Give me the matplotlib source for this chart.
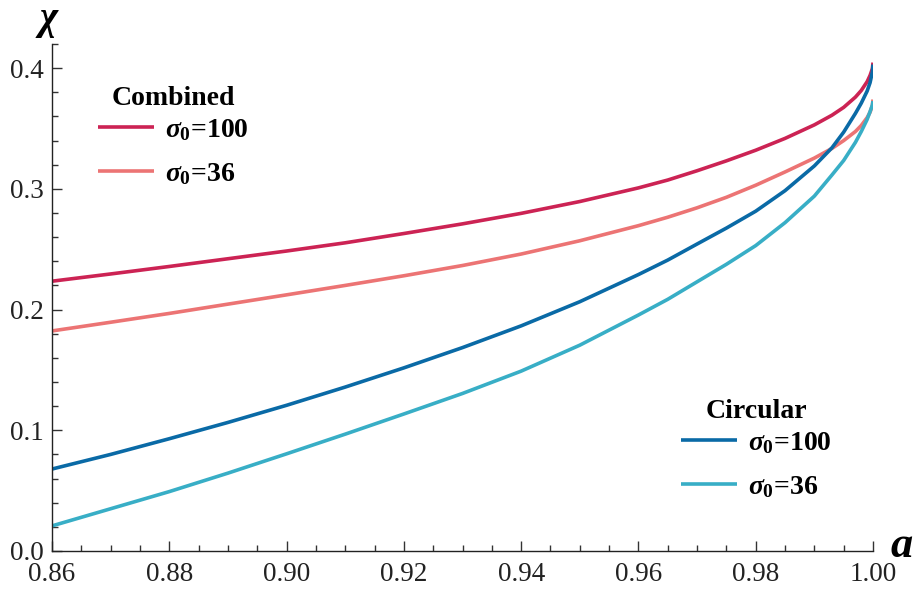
import matplotlib
matplotlib.use("Agg")
import matplotlib.pyplot as plt
from matplotlib.ticker import MultipleLocator, FormatStrFormatter

plt.rcParams['font.family'] = ['Liberation Serif', 'DejaVu Serif']
plt.rcParams['mathtext.fontset'] = 'custom'
plt.rcParams['mathtext.it'] = 'Liberation Serif:italic:bold'
plt.rcParams['mathtext.rm'] = 'Liberation Serif:bold'
plt.rcParams['mathtext.bf'] = 'Liberation Serif:bold'

# ---- data ----
a_vals = [0.86, 0.87, 0.88, 0.89, 0.90, 0.91, 0.92, 0.93, 0.94, 0.95, 0.96,
          0.965, 0.97, 0.975, 0.98, 0.985, 0.99, 0.993, 0.995, 0.997, 0.998,
          0.999, 0.9995, 0.9999, 1.0]
comb_100 = [0.2235, 0.2295, 0.2357, 0.2421, 0.2485, 0.2553, 0.2630, 0.2710,
            0.2797, 0.2895, 0.3008, 0.3073, 0.3150, 0.3232, 0.3320, 0.3418,
            0.3530, 0.3610, 0.3675, 0.3760, 0.3815, 0.3888, 0.3940, 0.3996,
            0.4046]
comb_36 = [0.1823, 0.1895, 0.1968, 0.2045, 0.2122, 0.2200, 0.2280, 0.2365,
           0.2460, 0.2570, 0.2695, 0.2765, 0.2843, 0.2930, 0.3030, 0.3140,
           0.3255, 0.3335, 0.3400, 0.3475, 0.3525, 0.3590, 0.3635, 0.3693,
           0.3740]
circ_100 = [0.0679, 0.0800, 0.0930, 0.1065, 0.1207, 0.1358, 0.1517, 0.1685,
            0.1865, 0.2065, 0.2290, 0.2410, 0.2543, 0.2675, 0.2815, 0.2985,
            0.3190, 0.3340, 0.3470, 0.3625, 0.3710, 0.3810, 0.3880, 0.3970,
            0.4030]
circ_36 = [0.0208, 0.0350, 0.0492, 0.0645, 0.0805, 0.0968, 0.1135, 0.1305,
           0.1490, 0.1705, 0.1955, 0.2085, 0.2230, 0.2375, 0.2530, 0.2720,
           0.2940, 0.3115, 0.3235, 0.3385, 0.3475, 0.3575, 0.3640, 0.3695,
           0.3727]

series_labels = [r'$\sigma_0$=100', r'$\sigma_0$=36']
group_titles = ['Combined', 'Circular']
x_ticks = [0.86, 0.88, 0.90, 0.92, 0.94, 0.96, 0.98, 1.00]
y_ticks = [0.0, 0.1, 0.2, 0.3, 0.4]

c_comb100 = '#CC2354'
c_comb36 = '#EC7474'
c_circ100 = '#0A6AA6'
c_circ36 = '#38AEC6'

W, H = 917, 593
fig = plt.figure(figsize=(W / 100, H / 100), dpi=100)
ax = fig.add_axes([52 / W, 1 - 551 / H, 821 / W, (551 - 44) / H])

lw = 2.6
l1, = ax.plot(a_vals, comb_100, color=c_comb100, lw=lw, solid_capstyle='butt')
l2, = ax.plot(a_vals, comb_36, color=c_comb36, lw=lw, solid_capstyle='butt')
l3, = ax.plot(a_vals, circ_100, color=c_circ100, lw=lw, solid_capstyle='butt')
l4, = ax.plot(a_vals, circ_36, color=c_circ36, lw=lw, solid_capstyle='butt')

ax.set_xlim(0.86, 1.0)
ax.set_ylim(0.0, 0.42)
ax.set_xticks(x_ticks)
ax.set_yticks(y_ticks)
ax.xaxis.set_minor_locator(MultipleLocator(0.005))
ax.yaxis.set_minor_locator(MultipleLocator(0.02))
ax.xaxis.set_major_formatter(FormatStrFormatter('%.2f'))
ax.yaxis.set_major_formatter(FormatStrFormatter('%.1f'))

for s in ['top', 'right']:
    ax.spines[s].set_visible(False)
for s in ['left', 'bottom']:
    ax.spines[s].set_linewidth(1.0)
    ax.spines[s].set_color('#222222')

ax.tick_params(which='both', direction='in', colors='#333333', width=1.0,
               labelcolor='#222222', labelsize=19.5)
ax.tick_params(which='major', length=7)
ax.tick_params(which='minor', length=4.5)
ax.tick_params(axis='x', which='major', pad=8)
ax.tick_params(axis='y', which='major', pad=6)

fig.text(48 / W, 1 - 21 / H, r'$\chi$', fontsize=28, ha='center', va='center')
fig.text(902 / W, 1 - 546 / H, r'$a$', fontsize=32, ha='center', va='center')

leg_kw = dict(frameon=False, fontsize=20, handlelength=2.0, handletextpad=0.4,
              labelspacing=0.65, borderpad=0, borderaxespad=0,
              bbox_transform=fig.transFigure, loc='upper left',
              title_fontproperties={'weight': 'bold', 'size': 20})
leg1 = ax.legend(handles=[l1, l2], labels=series_labels, title=group_titles[0],
                 bbox_to_anchor=(98 / W, 1 - 86 / H), **leg_kw)
ax.add_artist(leg1)
leg2 = ax.legend(handles=[l3, l4], labels=series_labels, title=group_titles[1],
                 bbox_to_anchor=(681 / W, 1 - 399 / H), **leg_kw)
for lg in (leg1, leg2):
    lg._legend_box.sep = 4.3
    for t in lg.get_texts():
        t.set_fontweight('bold')

fig.savefig('out.png', dpi=100)
